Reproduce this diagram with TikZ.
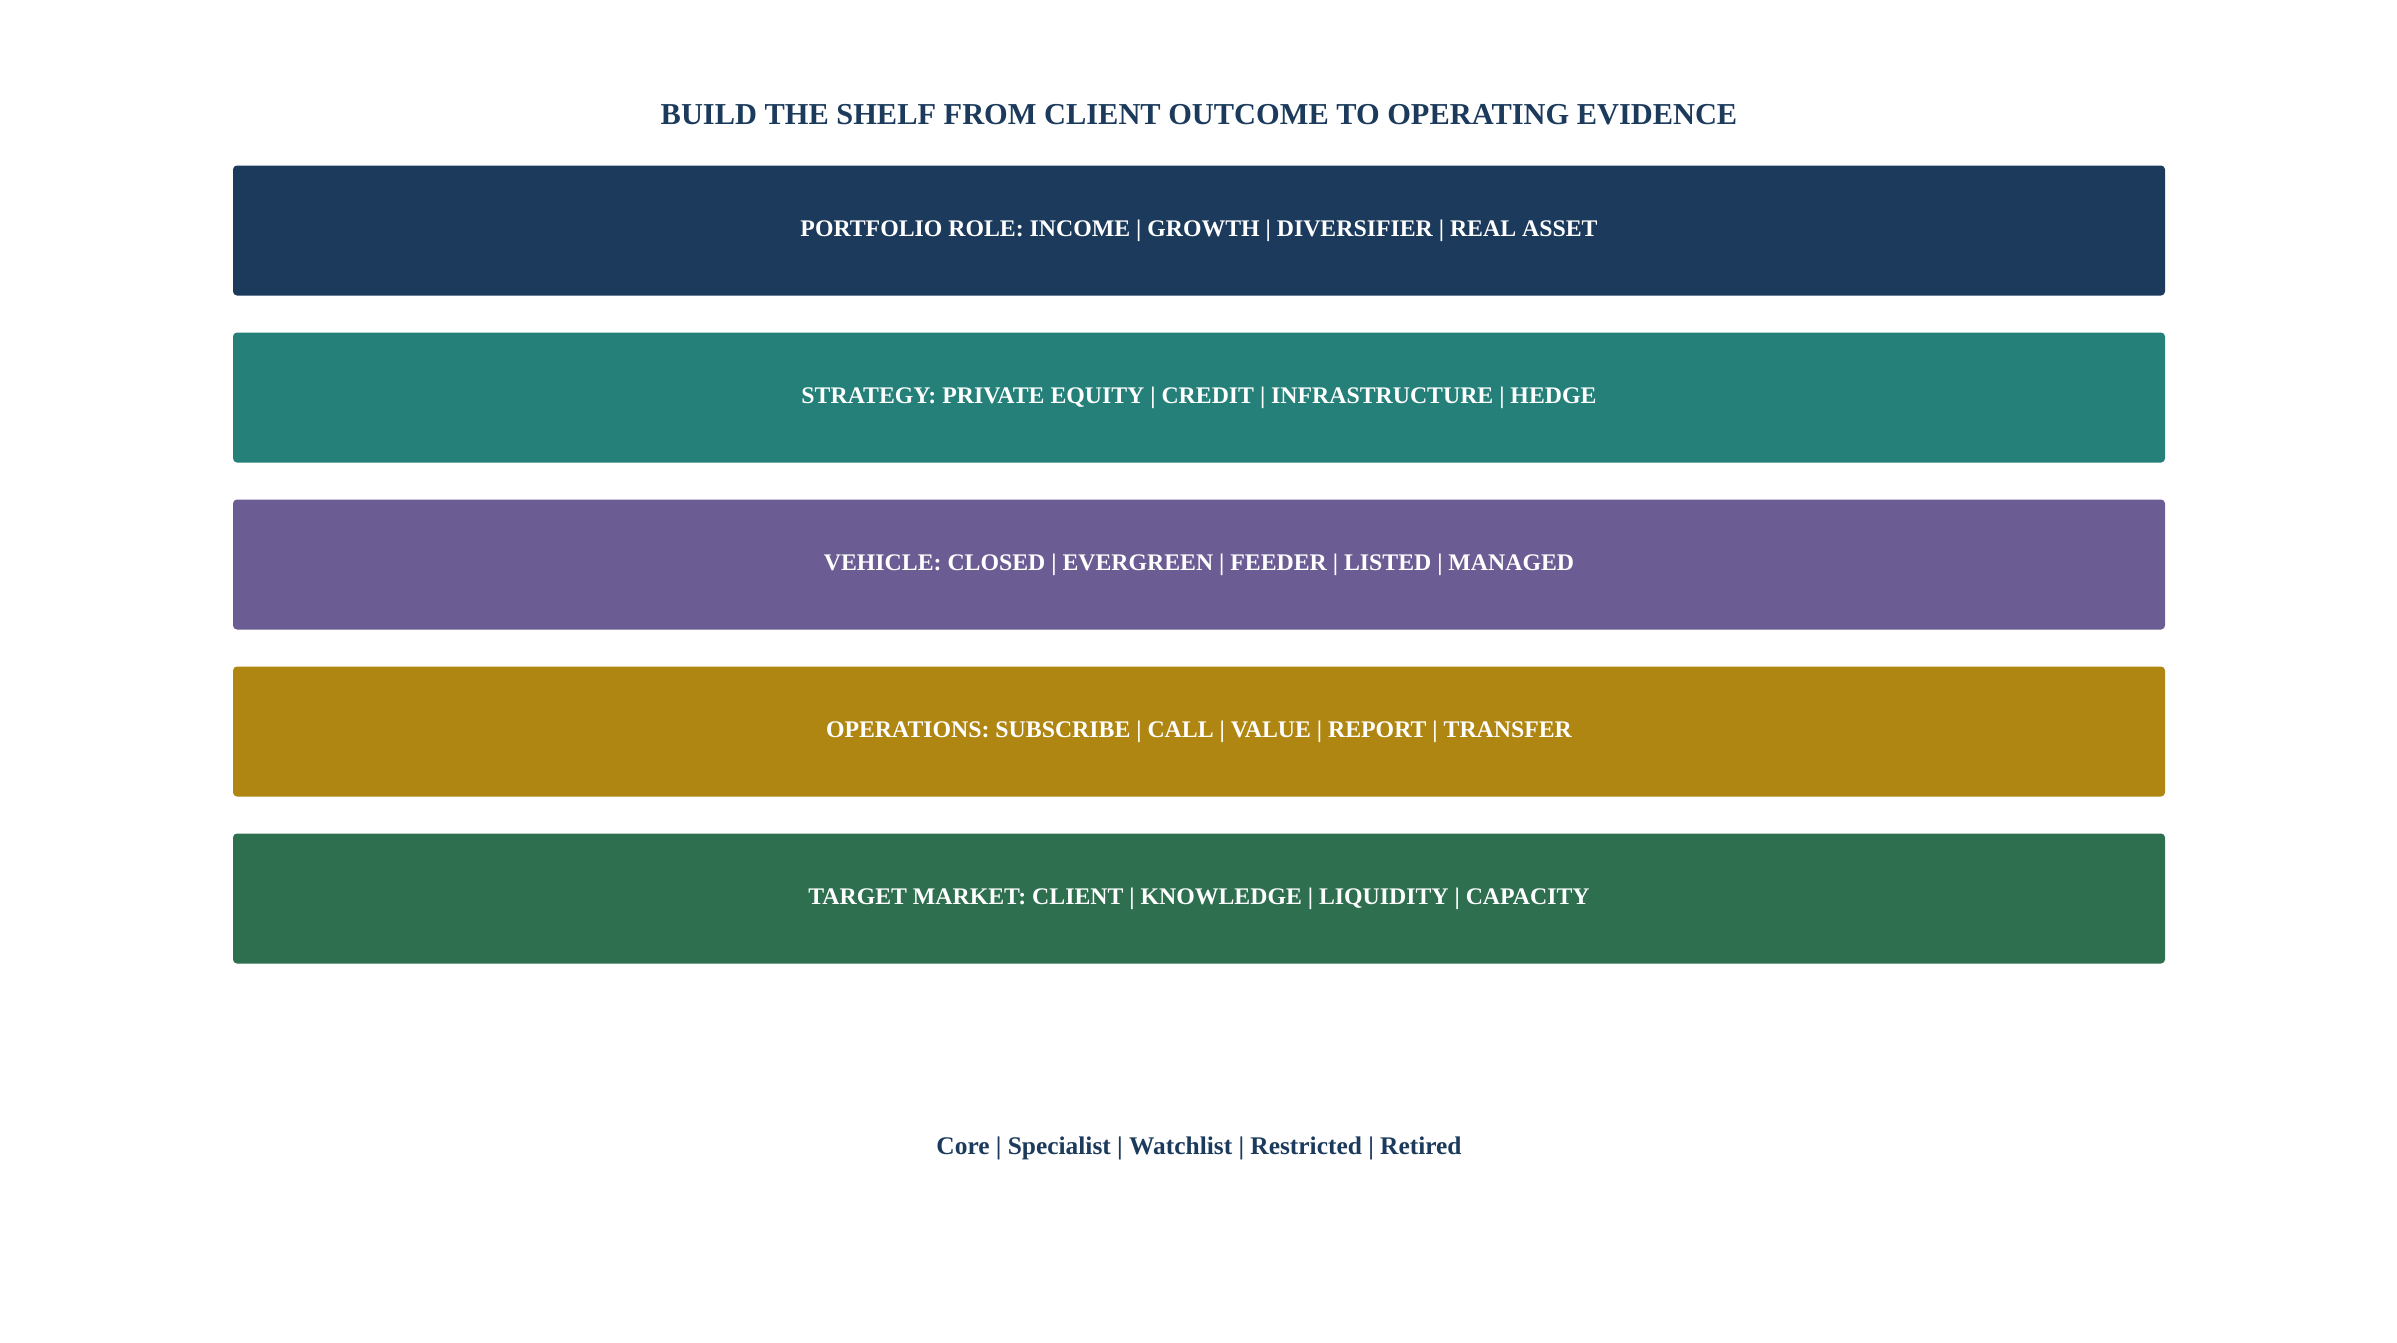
\documentclass[tikz,border=0pt]{standalone}
\usepackage{fontspec}
\setmainfont{Liberation Serif}
\definecolor{navy}{HTML}{1B3A5C}
\definecolor{teal}{HTML}{248079}
\definecolor{purp}{HTML}{6B5C93}
\definecolor{gold}{HTML}{B08612}
\definecolor{grn}{HTML}{2E6F50}
\tikzset{
  bar/.style={fill=#1, draw=none, rounded corners=4pt, minimum width=1932pt, minimum height=130pt, inner sep=0pt, text=white, font=\fontsize{23.8}{28}\selectfont\bfseries},
  titletext/.style={text=navy, font=\fontsize{30.4}{36}\selectfont\bfseries, inner sep=0pt},
  foottext/.style={text=navy, font=\fontsize{25.4}{30}\selectfont\bfseries, inner sep=0pt}
}
\begin{document}
\begin{tikzpicture}[x=1pt,y=-1pt]
\useasboundingbox (0,0) rectangle (2397,1342);
\node[titletext] (title) at (1199,114.5) {BUILD THE SHELF FROM CLIENT OUTCOME TO OPERATING EVIDENCE};
\node[bar=navy] (b1) at (1199,230.5) {PORTFOLIO ROLE: INCOME | GROWTH | DIVERSIFIER | REAL ASSET};
\node[bar=teal] (b2) at (1199,397.5) {STRATEGY: PRIVATE EQUITY | CREDIT | INFRASTRUCTURE | HEDGE};
\node[bar=purp] (b3) at (1199,564.5) {VEHICLE: CLOSED | EVERGREEN | FEEDER | LISTED | MANAGED};
\node[bar=gold] (b4) at (1199,731.5) {OPERATIONS: SUBSCRIBE | CALL | VALUE | REPORT | TRANSFER};
\node[bar=grn] (b5) at (1199,898.5) {TARGET MARKET: CLIENT | KNOWLEDGE | LIQUIDITY | CAPACITY};
\node[foottext] (foot) at (1199,1148) {Core | Specialist | Watchlist | Restricted | Retired};
\end{tikzpicture}
\end{document}
